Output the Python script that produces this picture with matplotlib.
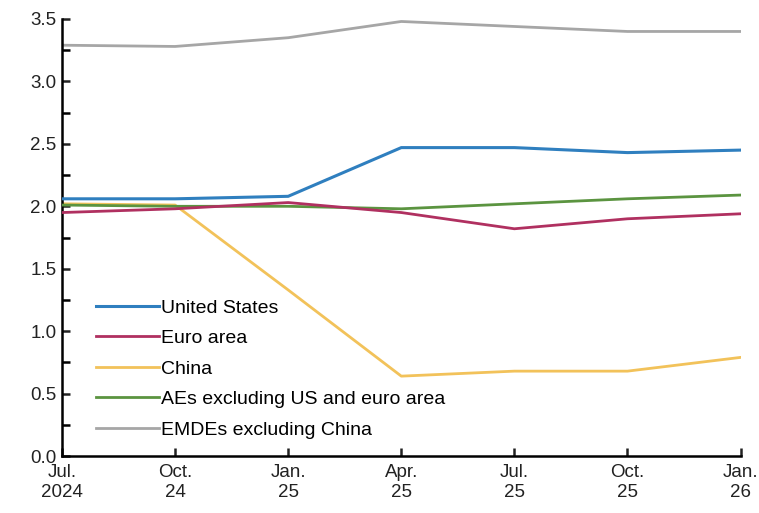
import matplotlib
matplotlib.use("Agg")
import matplotlib.pyplot as plt
from matplotlib.ticker import MultipleLocator
from matplotlib import font_manager

dates = ["Jul.\n2024", "Oct.\n24", "Jan.\n25", "Apr.\n25", "Jul.\n25", "Oct.\n25", "Jan.\n26"]
united_states = [2.06, 2.06, 2.08, 2.47, 2.47, 2.43, 2.45]
euro_area = [1.95, 1.98, 2.03, 1.95, 1.82, 1.90, 1.94]
china = [2.02, 2.01, 1.33, 0.64, 0.68, 0.68, 0.79]
aes_ex = [2.01, 2.00, 2.00, 1.98, 2.02, 2.06, 2.09]
emdes_ex = [3.29, 3.28, 3.35, 3.48, 3.44, 3.40, 3.40]

names = {f.name for f in font_manager.fontManager.ttflist}
fam = ["Liberation Sans Narrow", "Liberation Sans", "DejaVu Sans"]
fam = [f for f in fam if f in names] or ["DejaVu Sans"]
plt.rcParams['font.family'] = fam

fig = plt.figure(figsize=(7.59, 5.13), dpi=100)
ax = fig.add_axes([0.0817, 0.111, 0.894, 0.852])
x = list(range(len(dates)))

ax.plot(x, emdes_ex, color="#a6a6a6", lw=2, label="EMDEs excluding China", zorder=2)
ax.plot(x, aes_ex, color="#5b9440", lw=2, label="AEs excluding US and euro area", zorder=3)
ax.plot(x, china, color="#f2c25a", lw=2, label="China", zorder=2.5)
ax.plot(x, euro_area, color="#b03060", lw=2, label="Euro area", zorder=3)
ax.plot(x, united_states, color="#2f7fbf", lw=2.2, label="United States", zorder=4)

ax.set_xlim(0, len(dates) - 1)
ax.set_ylim(0, 3.5)
ax.set_xticks(x)
ax.set_xticklabels(dates)
ax.yaxis.set_major_locator(MultipleLocator(0.5))
ax.yaxis.set_minor_locator(MultipleLocator(0.25))
ax.yaxis.set_major_formatter(matplotlib.ticker.FormatStrFormatter('%.1f'))
for s in ["top", "right"]:
    ax.spines[s].set_visible(False)
for s in ["left", "bottom"]:
    ax.spines[s].set_linewidth(1.8)
ax.tick_params(axis="both", direction="in", labelsize=13.5, width=1.8, length=6, pad=4, colors="#222222")
ax.tick_params(axis="y", which="minor", direction="in", width=1.8, length=6)
ax.tick_params(axis="x", pad=6)

handles, labels = ax.get_legend_handles_labels()
order = [4, 3, 2, 1, 0]
ax.legend([handles[i] for i in order], [labels[i] for i in order],
          loc="lower left", bbox_to_anchor=(0.025, 0.0), frameon=False,
          fontsize=14, handlelength=3.2, handletextpad=0.1, labelspacing=0.66)

fig.savefig("out.png", dpi=100)
